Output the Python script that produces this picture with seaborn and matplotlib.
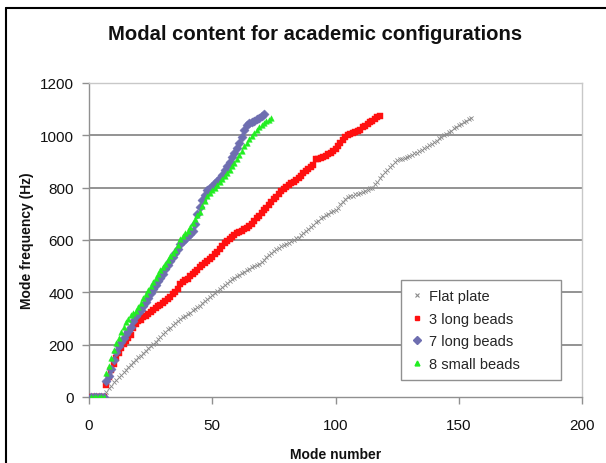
import matplotlib
matplotlib.use("Agg")
import matplotlib.pyplot as plt
from matplotlib.lines import Line2D
import seaborn as sns
import pandas as pd

# ---------------- data ----------------
flat_modes = list(range(1, 156))
flat_freq = [0, 0, 0, 0, 0, 0,
             20, 33, 43, 56, 65, 76, 85, 96, 104, 115, 123, 133, 140, 151,
             157, 169, 175, 187, 194, 204, 212, 222, 230, 241, 247, 259, 265, 277, 284, 291, 297, 304, 309, 316,
             321, 331, 335, 345, 349, 359, 365, 375, 381, 391, 396, 406, 413, 422, 429, 437, 442, 450, 455, 463,
             467, 474, 478, 486, 489, 496, 499, 506, 509, 516, 523, 534, 541, 552, 559, 566, 569, 576, 579, 586,
             589, 596, 599, 606, 609, 619, 625, 635, 641, 651, 657, 667, 673, 683, 689, 696, 699, 706, 709, 716,
             724, 736, 744, 756, 764, 769, 770, 775, 776, 781, 783, 789, 791, 797, 799, 813, 823, 837, 847, 861,
             868, 879, 886, 897, 904, 909, 910, 915, 916, 921, 924, 931, 934, 941, 944, 952, 956, 964, 968, 976,
             980, 988, 992, 1000, 1004, 1013, 1018, 1027, 1032, 1041, 1044, 1051, 1054, 1061, 1065]

beads3_modes = list(range(1, 119))
beads3_freq = [0, 0, 0, 0, 0, 0,
               45, 78, 102, 125, 148, 168, 188, 202, 214, 224, 236, 262, 278, 290,
               296, 304, 311, 318, 326, 333, 340, 346, 353, 361, 368, 376, 384, 392, 400, 412, 430, 440, 446, 452,
               461, 470, 478, 487, 496, 503, 511, 519, 527, 535, 545, 556, 566, 576, 590, 598, 605, 612, 619, 625,
               630, 636, 642, 646, 652, 662, 674, 684, 693, 702, 713, 724, 735, 746, 756, 766, 776, 786, 794, 802,
               810, 817, 822, 830, 837, 846, 855, 864, 871, 880, 888, 908, 911, 913, 917, 922, 928, 934, 940, 946,
               958, 970, 981, 992, 1000, 1005, 1010, 1014, 1018, 1022, 1030, 1037, 1044, 1050, 1055, 1062, 1069, 1075]

beads7_modes = list(range(1, 72))
beads7_freq = [0, 0, 0, 0, 0, 0,
               62, 80, 108, 140, 172, 196, 212, 226, 240, 252, 266, 290, 310, 322,
               334, 346, 362, 380, 396, 412, 428, 442, 456, 470, 488, 505, 521, 536, 551, 565, 584, 596, 605, 614,
               624, 634, 660, 700, 728, 752, 772, 790, 798, 806, 816, 826, 836, 850, 866, 882, 898, 916, 934, 952,
               970, 995, 1022, 1038, 1046, 1052, 1056, 1062, 1068, 1074, 1080]

small8_modes = list(range(1, 75))
small8_freq = [0, 0, 0, 0, 0, 0,
               90, 120, 150, 180, 205, 225, 250, 268, 285, 300, 315, 320, 330, 345,
               360, 378, 394, 410, 424, 440, 455, 470, 484, 498, 510, 524, 537, 550, 563, 580, 605, 615, 625, 635,
               648, 664, 680, 694, 708, 730, 750, 768, 780, 790, 800, 810, 822, 834, 846, 856, 868, 882, 896, 910,
               924, 942, 958, 972, 986, 998, 1010, 1020, 1030, 1040, 1048, 1055, 1060, 1065]

series_names = ["Flat plate", "3 long beads", "7 long beads", "8 small beads"]
x_ticks = [0, 50, 100, 150, 200]
y_ticks = [0, 200, 400, 600, 800, 1000, 1200]

# ---------------- style ----------------
sns.set_theme(style="white")
FONT = ["Liberation Sans", "DejaVu Sans"]
plt.rcParams["font.family"] = FONT

fig = plt.figure(figsize=(6.06, 4.64), dpi=100)
ax = fig.add_axes([89 / 606, 1 - 398 / 464, (582 - 89) / 606, (398 - 84) / 464])

df_flat = pd.DataFrame({"mode": flat_modes, "freq": flat_freq})
df_b3 = pd.DataFrame({"mode": beads3_modes, "freq": beads3_freq})
df_b7 = pd.DataFrame({"mode": beads7_modes, "freq": beads7_freq})
df_s8 = pd.DataFrame({"mode": small8_modes, "freq": small8_freq})

c_flat, c_b3, c_b7, c_s8 = "#8a8a8a", "#ff1010", "#6e6eb0", "#22ee22"

sns.scatterplot(data=df_flat, x="mode", y="freq", ax=ax, marker="x", s=9,
                color=c_flat, linewidth=0.6, zorder=3)
sns.scatterplot(data=df_b3, x="mode", y="freq", ax=ax, marker="s", s=14,
                color=c_b3, edgecolor=c_b3, linewidth=0.3, zorder=4)
sns.scatterplot(data=df_b7, x="mode", y="freq", ax=ax, marker="D", s=22,
                color=c_b7, edgecolor=c_b7, linewidth=0.3, zorder=5)
sns.scatterplot(data=df_s8, x="mode", y="freq", ax=ax, marker="^", s=16,
                color=c_s8, edgecolor=c_s8, linewidth=0.3, zorder=6)

ax.set_xlim(0, 200)
ax.set_ylim(0, 1200)
ax.set_xticks(x_ticks)
ax.set_yticks(y_ticks)
ax.set_xticklabels([str(v) for v in x_ticks])
ax.set_yticklabels([str(v) for v in y_ticks])

for y in y_ticks[1:-1]:
    ax.axhline(y, color="#808080", linewidth=1.2, zorder=1)

for side in ["top", "right"]:
    ax.spines[side].set_color("#c8c8c8")
    ax.spines[side].set_linewidth(1.0)
for side in ["left", "bottom"]:
    ax.spines[side].set_color("#909090")
    ax.spines[side].set_linewidth(1.0)

ax.tick_params(axis="both", which="major", direction="out", length=5, width=1,
               color="#909090", labelsize=11, labelcolor="#111111",
               left=True, bottom=True)
ax.tick_params(axis="x", pad=10)
ax.tick_params(axis="y", pad=6)

ax.set_xlabel("Mode number", fontsize=10, fontweight="bold", labelpad=11, color="#111111")
ax.set_ylabel("Mode frequency (Hz)", fontsize=10, fontweight="bold", labelpad=4, color="#111111")

fig.text(315 / 606, 1 - 35 / 464, "Modal content for academic configurations",
         ha="center", va="center", fontsize=14.6, fontweight="bold", color="#111111")

handles = [
    Line2D([], [], linestyle="none", marker="x", markersize=3, markeredgewidth=0.8, color=c_flat),
    Line2D([], [], linestyle="none", marker="s", markersize=3.5, color=c_b3),
    Line2D([], [], linestyle="none", marker="D", markersize=4.5, color=c_b7),
    Line2D([], [], linestyle="none", marker="^", markersize=3.5, color=c_s8),
]
leg = ax.legend(handles, series_names, loc="lower left",
                bbox_to_anchor=((401 - 89) / 493, (398 - 381) / 314, (561 - 401) / 493, (381 - 278) / 314),
                mode="expand", fontsize=10.5, frameon=True, fancybox=False,
                edgecolor="#909090", framealpha=1, borderpad=0.6, labelspacing=0.6,
                handletextpad=0.3, handlelength=1.0, borderaxespad=0)
leg.get_frame().set_linewidth(1.0)

# outer figure border (left and top edges visible in the reference)
fig.add_artist(Line2D([6 / 606, 6 / 606], [0, 1 - 9 / 464], transform=fig.transFigure,
                      color="black", linewidth=1.5))
fig.add_artist(Line2D([6 / 606, 1], [1 - 9 / 464, 1 - 9 / 464], transform=fig.transFigure,
                      color="black", linewidth=1.5))

fig.savefig("out.png", dpi=100)
